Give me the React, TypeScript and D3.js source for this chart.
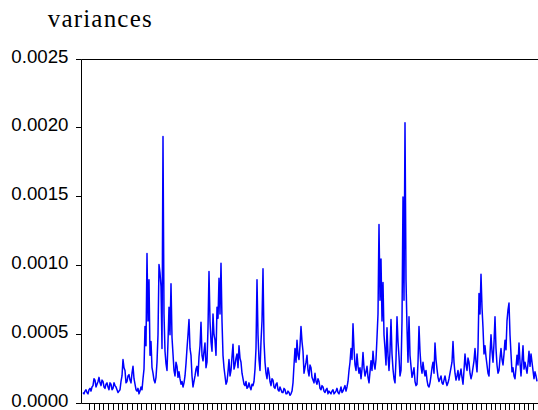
import * as d3 from "d3";

const TITLE = "variances";
const Y_TICKS = [0, 0.0005, 0.001, 0.0015, 0.002, 0.0025];
const Y_TICK_LABELS = ["0.0000", "0.0005", "0.0010", "0.0015", "0.0020", "0.0025"];

// conditional variance series, values in units of 1e-4 (scaled below by UNIT)
const UNIT = 1e-4;
const VARIANCES_E4 = [
  0.8, 0.7, 0.9, 1.0, 0.8, 0.7, 1.0, 1.1, 0.9, 1.2, 1.3, 1.8, 1.7, 1.2, 1.4, 1.6, 1.9, 1.5, 1.3, 1.7,
  1.6, 1.2, 1.1, 1.4, 1.5, 1.2, 1.0, 1.5, 1.4, 1.0, 1.1, 1.5, 1.3, 1.2, 1.0, 0.8, 0.9, 1.0, 1.6, 2.0,
  3.2, 2.6, 2.4, 1.5, 1.6, 2.0, 2.1, 1.7, 1.5, 2.2, 2.7, 1.8, 1.4, 1.0, 0.9, 1.1, 0.7, 0.9, 1.2, 1.0,
  1.8, 2.5, 5.6, 4.2, 10.9, 6.0, 9.0, 3.5, 4.5, 2.6, 2.2, 1.7, 1.5, 1.9, 3.0, 5.0, 10.1, 9.5, 8.5, 4.0,
  19.4, 6.5, 3.8, 2.9, 2.4, 4.5, 7.0, 5.0, 8.7, 4.8, 3.6, 2.4, 2.0, 3.0, 2.7, 1.9, 2.3, 1.8, 1.4, 1.6,
  1.2, 1.5, 2.0, 2.9, 4.0, 5.0, 6.1, 4.0, 3.5, 2.0, 1.2, 1.6, 2.0, 2.5, 2.7, 2.0, 3.4, 4.2, 5.9, 3.5,
  3.1, 3.8, 4.4, 2.6, 3.0, 5.5, 9.6, 6.0, 4.5, 3.8, 6.5, 5.0, 4.6, 3.5, 7.0, 6.2, 9.1, 6.5, 10.2, 6.0,
  3.5, 2.6, 2.0, 1.4, 1.6, 2.3, 3.2, 2.0, 2.4, 3.4, 4.3, 2.5, 2.8, 3.3, 3.6, 2.6, 4.2, 3.3, 3.0, 2.2,
  1.8, 1.4, 1.3, 1.6, 1.1, 1.2, 1.5, 1.2, 1.0, 1.4, 1.3, 1.6, 2.5, 4.0, 9.0, 5.0, 3.2, 2.4, 4.5, 6.0,
  9.8, 4.5, 3.0, 2.2, 1.8, 2.6, 2.2, 1.6, 1.3, 1.8, 1.7, 1.2, 1.1, 1.4, 1.5, 1.0, 0.9, 1.2, 1.0, 0.8,
  0.8, 1.1, 1.0, 0.7, 0.7, 0.9, 0.8, 0.6, 0.7, 0.9, 1.5, 2.8, 4.0, 3.0, 4.6, 3.5, 3.2, 4.2, 5.6, 4.5,
  3.8, 2.2, 2.6, 3.0, 3.5, 2.4, 2.0, 2.8, 2.6, 1.9, 1.7, 1.5, 2.2, 1.6, 1.4, 1.8, 1.6, 1.1, 1.0, 1.3,
  1.2, 0.9, 0.8, 1.0, 1.1, 0.7, 0.9, 0.8, 0.7, 0.9, 1.0, 0.7, 0.8, 0.9, 1.1, 0.8, 0.7, 0.9, 1.2, 0.8,
  0.9, 1.1, 1.3, 0.9, 1.2, 1.6, 2.4, 3.0, 4.0, 3.2, 5.8, 4.0, 2.8, 2.4, 3.6, 2.7, 2.2, 2.6, 1.8, 2.5,
  3.7, 2.6, 2.0, 2.3, 2.7, 1.9, 1.5, 2.3, 3.1, 2.4, 3.8, 2.9, 2.5, 3.2, 4.8, 6.5, 13.0, 7.5, 10.5, 6.0,
  8.8, 5.0, 4.0, 2.8, 5.5, 3.5, 2.4, 3.8, 6.1, 3.6, 2.5, 1.8, 1.5, 3.2, 6.3, 4.5, 3.4, 2.0, 2.4, 6.0,
  15.0, 7.5, 20.4, 9.0, 5.5, 3.0, 6.3, 3.5, 2.7, 1.9, 2.2, 2.6, 1.6, 1.3, 1.4, 3.0, 5.6, 3.8, 2.7, 2.2,
  3.0, 2.4, 2.0, 2.4, 1.7, 1.3, 1.2, 1.5, 2.0, 2.6, 3.0, 2.2, 4.4, 3.2, 2.5, 1.9, 1.6, 1.8, 2.0, 1.5,
  1.4, 1.7, 2.0, 1.6, 1.3, 1.5, 1.8, 2.2, 2.6, 3.0, 4.5, 3.0, 2.2, 1.7, 2.0, 2.4, 1.7, 2.1, 2.5, 1.9,
  1.4, 2.4, 3.6, 2.8, 2.4, 3.3, 3.0, 2.2, 1.8, 2.1, 2.6, 3.1, 4.0, 3.0, 2.3, 4.0, 8.0, 6.5, 9.4, 7.0,
  5.5, 3.6, 4.2, 3.4, 2.8, 2.2, 2.0, 3.6, 5.0, 3.8, 3.0, 4.4, 6.3, 4.0, 2.8, 2.2, 2.4, 3.3, 4.0, 3.2,
  2.8, 3.6, 4.6, 3.9, 6.0, 6.8, 7.3, 5.0, 3.6, 2.3, 2.6, 2.0, 1.8, 2.6, 3.5, 2.8, 4.4, 3.0, 2.0, 3.1,
  4.2, 2.5, 3.0, 2.6, 2.2, 2.9, 3.8, 2.7, 3.6, 3.0, 2.4, 1.8, 2.3, 2.0, 1.6,
];
const VARIANCES = VARIANCES_E4.map((v) => v * UNIT);

// bottom-axis tick marks, in observation units
const X_TICK_START = 6.3;
const X_TICK_STEP = 4.72;

export default function App() {
  const W = 538;
  const H = 410;
  const frameLeft = 81.5;
  const frameTop = 59.5;
  const frameBottom = 403.5;
  const frameRight = 600;

  const x = d3
    .scaleLinear()
    .domain([0, VARIANCES.length - 1])
    .range([83, 537]);
  const y = d3.scaleLinear().domain([0, 0.0025]).range([frameBottom, frameTop]);

  const line = d3
    .line<number>()
    .x((_, i) => x(i))
    .y((d) => y(d));

  const xTicks = d3.range(X_TICK_START, VARIANCES.length, X_TICK_STEP);

  return (
    <svg
      width={W}
      height={H}
      style={{ position: "absolute", left: 0, top: 0, background: "#fff" }}
    >
      <rect x={0} y={0} width={W} height={H} fill="#fff" />
      <text
        x={47.7}
        y={27.3}
        fontFamily="'Liberation Serif', serif"
        fontSize={25}
        textLength={104}
        lengthAdjust="spacing"
        fill="#000"
      >
        {TITLE}
      </text>

      <path
        d={line(VARIANCES) || ""}
        fill="none"
        stroke="#0000ff"
        strokeWidth={1.5}
        strokeLinejoin="round"
      />

      {/* frame */}
      <line x1={frameLeft} x2={frameLeft} y1={frameTop} y2={frameBottom} stroke="#000" strokeWidth={1} />
      <line x1={frameLeft} x2={frameRight} y1={frameTop} y2={frameTop} stroke="#000" strokeWidth={1} />
      <line x1={frameLeft} x2={frameRight} y1={frameBottom} y2={frameBottom} stroke="#000" strokeWidth={1} />

      {/* y axis */}
      {Y_TICKS.map((t, i) => {
        const yy = Math.round(y(t)) + 0.5 - 1;
        return (
          <g key={i}>
            <line x1={76} x2={frameLeft} y1={yy} y2={yy} stroke="#000" strokeWidth={1} />
            <text
              x={68.5}
              y={yy + 3}
              textAnchor="end"
              fontFamily="'Liberation Sans', Arial, sans-serif"
              fontSize={18.7}
              fill="#000"
            >
              {Y_TICK_LABELS[i]}
            </text>
          </g>
        );
      })}

      {/* x axis ticks */}
      {xTicks.map((t, i) => {
        const xx = Math.round(x(t)) + 0.5;
        return (
          <line key={i} x1={xx} x2={xx} y1={frameBottom} y2={frameBottom + 7} stroke="#000" strokeWidth={1} />
        );
      })}
    </svg>
  );
}
